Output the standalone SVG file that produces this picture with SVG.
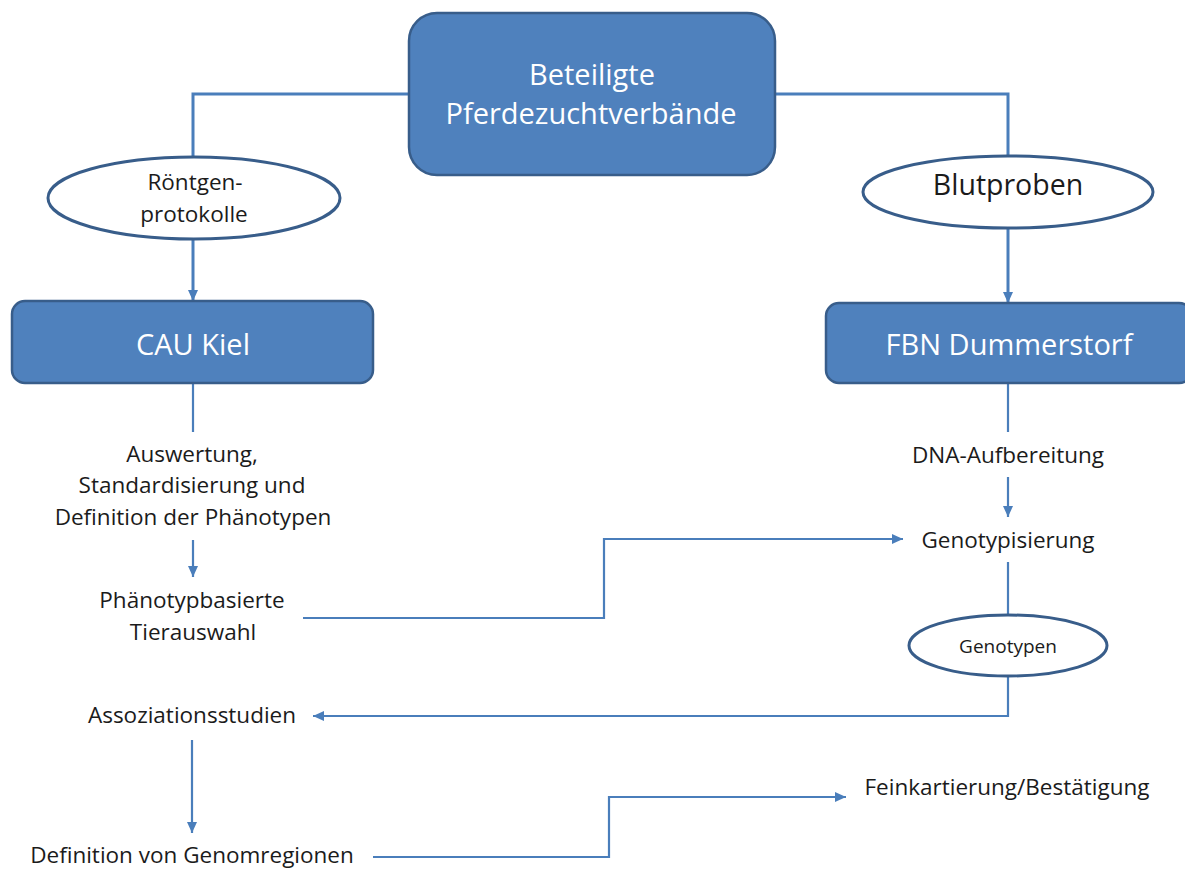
<svg xmlns="http://www.w3.org/2000/svg" width="1185" height="871" viewBox="0 0 1185 871">
<style>
.box{fill:#4F81BD;stroke:#385D8A;stroke-width:2.5}
.oval{fill:#ffffff;stroke:#385D8A;stroke-width:3}
.wt{fill:#ffffff;font-family:"Open Sans","Liberation Sans",sans-serif;font-size:29px;text-anchor:middle}
.bt{fill:#1b1b1b;font-family:"Open Sans","Liberation Sans",sans-serif;font-size:22.5px;text-anchor:middle}
.con{fill:none;stroke:#4A7EBB;stroke-width:2.2}
.thick{stroke-width:3}
</style>
<defs>
<marker id="arr" markerUnits="userSpaceOnUse" markerWidth="12" markerHeight="11" refX="11" refY="5" orient="auto">
<path d="M0,0 L11,5 L0,10 z" fill="#4A7EBB"/>
</marker>
</defs>
<rect width="1185" height="871" fill="#ffffff"/>
<g id="connectors">
<path class="con thick" d="M409,94 H193 V157"/>
<path class="con thick" d="M775,94 H1008 V155"/>
<path class="con thick" d="M193,240 V301" marker-end="url(#arr)"/>
<path class="con thick" d="M1008,228 V303" marker-end="url(#arr)"/>
<path class="con" d="M193,383 V432"/>
<path class="con" d="M193,540 V577" marker-end="url(#arr)"/>
<path class="con" d="M1008,383 V432"/>
<path class="con" d="M1008,477 V517" marker-end="url(#arr)"/>
<path class="con" d="M303,618 H604 V539 H903" marker-end="url(#arr)"/>
<path class="con" d="M1008,562 V615"/>
<path class="con" d="M1008,676 V716 H313" marker-end="url(#arr)"/>
<path class="con" d="M192,740 V833" marker-end="url(#arr)"/>
<path class="con" d="M373,857 H609 V797 H846" marker-end="url(#arr)"/>
</g>
<g id="node-verbaende">
<rect class="box" x="409" y="13" width="366" height="162" rx="28" ry="28"/>
<text class="wt" x="592" y="85">Beteiligte</text>
<text class="wt" x="591" y="124">Pferdezuchtverbände</text>
</g>
<g id="node-roentgen">
<ellipse class="oval" cx="194" cy="198" rx="146" ry="41"/>
<text class="bt" x="195" y="190">Röntgen-</text>
<text class="bt" x="194" y="222">protokolle</text>
</g>
<g id="node-blutproben">
<ellipse class="oval" cx="1008" cy="192" rx="145" ry="36"/>
<text class="bt" x="1008" y="195" style="font-size:28.5px">Blutproben</text>
</g>
<g id="node-cau">
<rect class="box" x="12" y="301" width="361" height="82" rx="13" ry="13"/>
<text class="wt" x="193" y="355">CAU Kiel</text>
</g>
<g id="node-fbn">
<rect class="box" x="826" y="303" width="366" height="80" rx="13" ry="13"/>
<text class="wt" x="1009" y="355">FBN Dummerstorf</text>
</g>
<g id="node-auswertung">
<text class="bt" x="192" y="462">Auswertung,</text>
<text class="bt" x="192" y="493">Standardisierung und</text>
<text class="bt" x="193" y="525">Definition der Phänotypen</text>
</g>
<g id="node-tierauswahl">
<text class="bt" x="192" y="608">Phänotypbasierte</text>
<text class="bt" x="193" y="640">Tierauswahl</text>
</g>
<g id="node-dna">
<text class="bt" x="1008" y="463">DNA-Aufbereitung</text>
</g>
<g id="node-genotypisierung">
<text class="bt" x="1008" y="548">Genotypisierung</text>
</g>
<g id="node-genotypen">
<ellipse class="oval" cx="1008" cy="645.5" rx="99" ry="30.5"/>
<text class="bt" x="1008" y="653" style="font-size:19px">Genotypen</text>
</g>
<g id="node-assoziation">
<text class="bt" x="192" y="723">Assoziationsstudien</text>
</g>
<g id="node-genomregionen">
<text class="bt" x="192" y="863">Definition von Genomregionen</text>
</g>
<g id="node-feinkartierung">
<text class="bt" x="1007" y="795">Feinkartierung/Bestätigung</text>
</g>
</svg>
